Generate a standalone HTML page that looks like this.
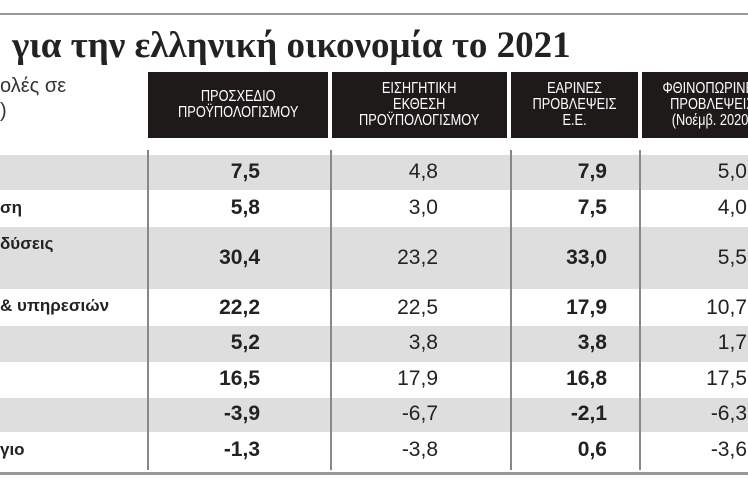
<!DOCTYPE html>
<html><head><meta charset="utf-8"><style>
body{margin:0;width:748px;height:498px;background:#fff;position:relative;overflow:hidden;font-family:"Liberation Sans","DejaVu Sans",sans-serif;color:#222}
div{position:absolute}
.row{left:0;width:748px}
.g{background:#dedede}
.h{background:#1f1a1a;color:#fff;top:72px;height:66px;font-size:16px;line-height:16px;text-align:center;display:flex;align-items:center;justify-content:center}
.h span{display:inline-block;transform:scaleX(0.8);white-space:nowrap}
.v{width:2px;background:#888;top:150px;height:320px}
.n{font-size:21px;text-align:right;width:100px}
.b{font-weight:bold}
.l{font-size:17px;font-weight:bold;left:0;white-space:nowrap}
</style></head><body>
<div style="left:0;top:13px;width:748px;height:2px;background:#999"></div>
<div style="left:12px;top:24px;font-family:'Liberation Serif','DejaVu Serif',serif;font-weight:bold;font-size:37px;color:#222;white-space:nowrap">για την ελληνική οικονομία το 2021</div>
<div style="left:0;top:74px;font-size:20px;color:#333;line-height:25px">ολές σε<br>)</div>
<div class="h" style="left:148px;width:180px"><span>ΠΡΟΣΧΕΔΙΟ<br>ΠΡΟΫΠΟΛΟΓΙΣΜΟΥ</span></div>
<div class="h" style="left:332px;width:175px"><span>ΕΙΣΗΓΗΤΙΚΗ<br>ΕΚΘΕΣΗ<br>ΠΡΟΫΠΟΛΟΓΙΣΜΟΥ</span></div>
<div class="h" style="left:511px;width:127px"><span>ΕΑΡΙΝΕΣ<br>ΠΡΟΒΛΕΨΕΙΣ<br>Ε.Ε.</span></div>
<div class="h" style="left:642px;width:140px"><span>ΦΘΙΝΟΠΩΡΙΝΕΣ<br>ΠΡΟΒΛΕΨΕΙΣ<br>(Νοέμβ. 2020)</span></div>

<div class="row g" style="top:155px;height:35px"></div>
<div class="row g" style="top:227px;height:62px"></div>
<div class="row g" style="top:326px;height:36px"></div>
<div class="row g" style="top:398px;height:34px"></div>
<div style="left:0;top:472px;width:748px;height:3px;background:#999"></div>
<div class="v" style="left:147px"></div>
<div class="v" style="left:330px"></div>
<div class="v" style="left:510px"></div>
<div class="v" style="left:639px"></div>

<div class="l" style="top:198px">ση</div>
<div class="l" style="top:234px">δύσεις</div>
<div class="l" style="top:296px">&amp; υπηρεσιών</div>
<div class="l" style="top:440px">γιο</div>

<div class="n b" style="left:160px;top:160px">7,5</div>
<div class="n b" style="left:160px;top:196px">5,8</div>
<div class="n b" style="left:160px;top:246px">30,4</div>
<div class="n b" style="left:160px;top:296px">22,2</div>
<div class="n b" style="left:160px;top:331px">5,2</div>
<div class="n b" style="left:160px;top:367px">16,5</div>
<div class="n b" style="left:160px;top:402px">-3,9</div>
<div class="n b" style="left:160px;top:438px">-1,3</div>
<div class="n" style="left:338px;top:160px">4,8</div>
<div class="n" style="left:338px;top:196px">3,0</div>
<div class="n" style="left:338px;top:246px">23,2</div>
<div class="n" style="left:338px;top:296px">22,5</div>
<div class="n" style="left:338px;top:331px">3,8</div>
<div class="n" style="left:338px;top:367px">17,9</div>
<div class="n" style="left:338px;top:402px">-6,7</div>
<div class="n" style="left:338px;top:438px">-3,8</div>
<div class="n b" style="left:507px;top:160px">7,9</div>
<div class="n b" style="left:507px;top:196px">7,5</div>
<div class="n b" style="left:507px;top:246px">33,0</div>
<div class="n b" style="left:507px;top:296px">17,9</div>
<div class="n b" style="left:507px;top:331px">3,8</div>
<div class="n b" style="left:507px;top:367px">16,8</div>
<div class="n b" style="left:507px;top:402px">-2,1</div>
<div class="n b" style="left:507px;top:438px">0,6</div>
<div class="n" style="left:647px;top:160px">5,0</div>
<div class="n" style="left:647px;top:196px">4,0</div>
<div class="n" style="left:647px;top:246px">5,5</div>
<div class="n" style="left:647px;top:296px">10,7</div>
<div class="n" style="left:647px;top:331px">1,7</div>
<div class="n" style="left:647px;top:367px">17,5</div>
<div class="n" style="left:647px;top:402px">-6,3</div>
<div class="n" style="left:647px;top:438px">-3,6</div>
</body></html>
